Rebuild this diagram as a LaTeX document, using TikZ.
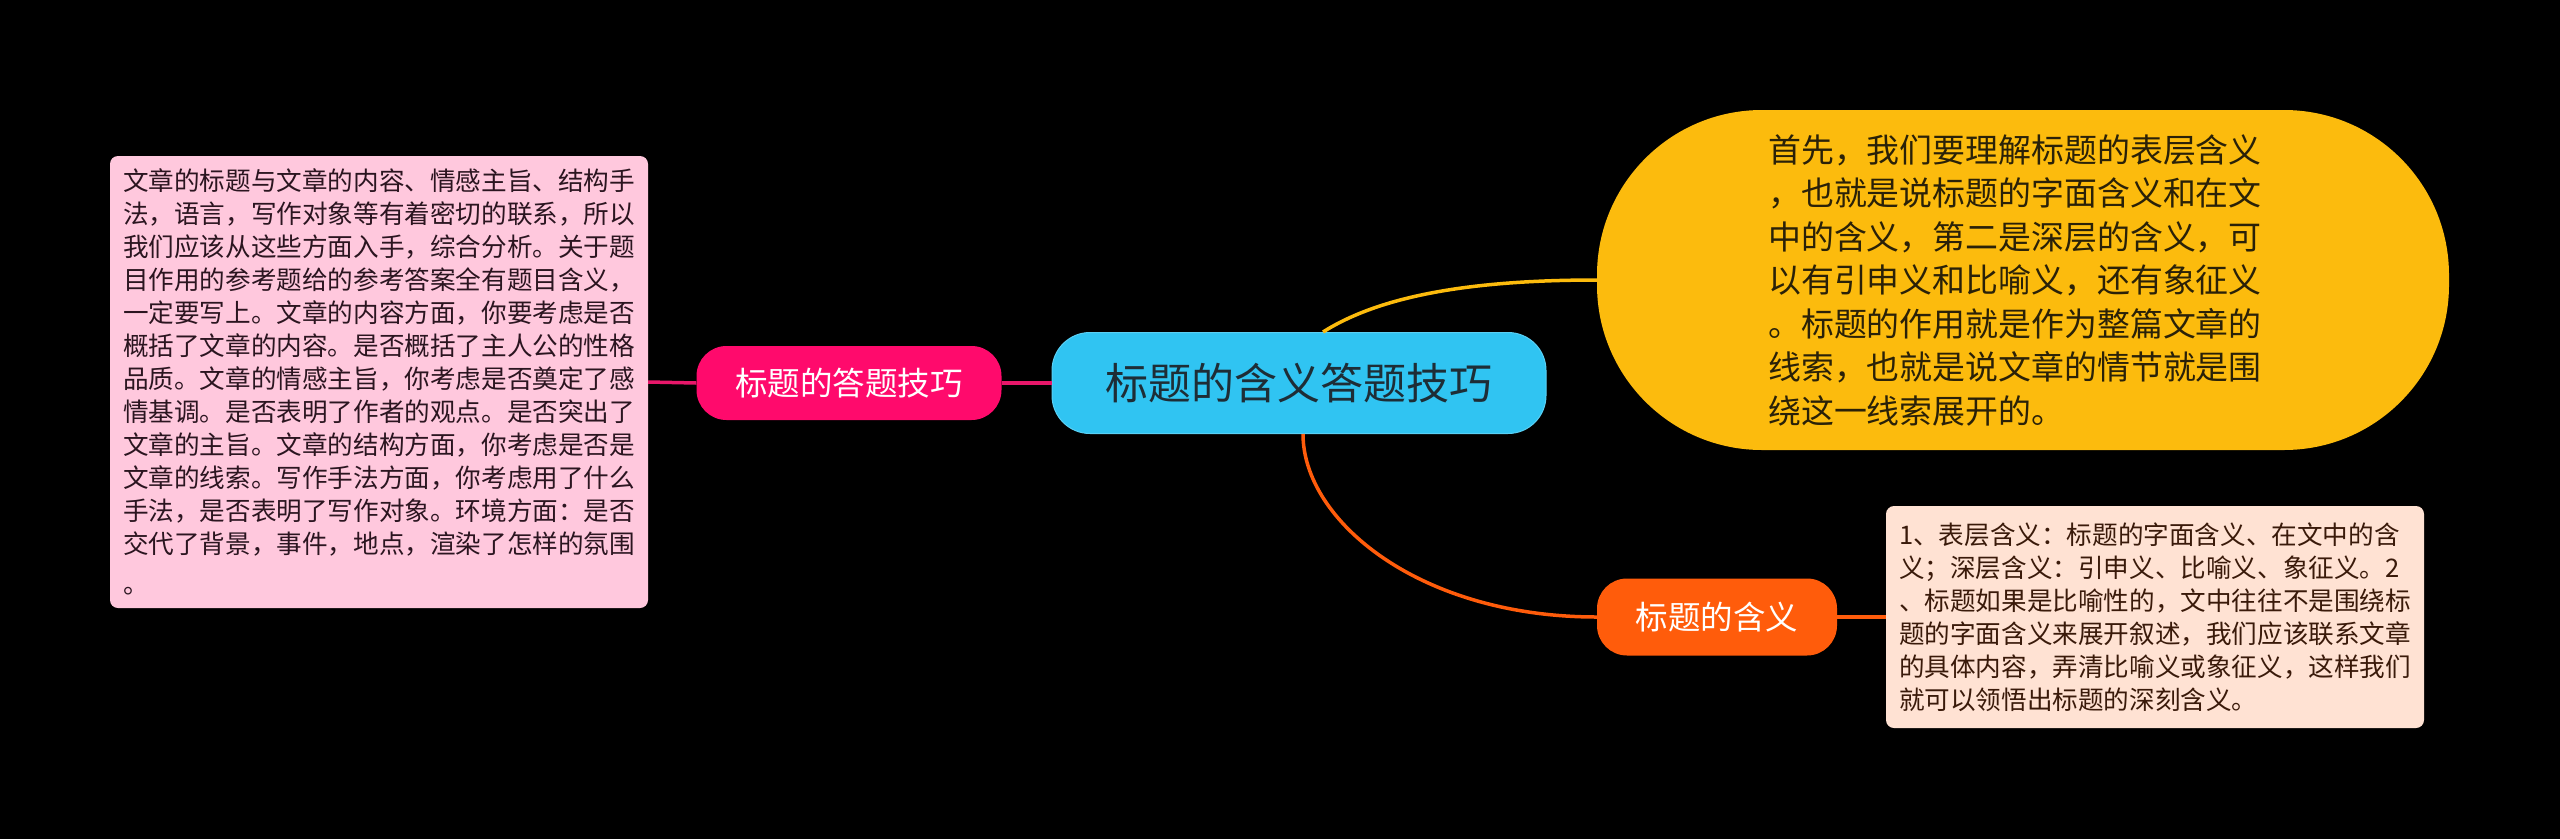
\documentclass[tikz,border=0pt]{standalone}
\usepackage{fontspec}
\newfontfamily\cjk{Noto Sans CJK SC}
\usetikzlibrary{calc}
\definecolor{rootfill}{HTML}{30C4F2}
\definecolor{roottext}{HTML}{1E2D36}
\definecolor{pinkfill}{HTML}{FF0A6C}
\definecolor{pinkline}{HTML}{E8176A}
\definecolor{pinkbox}{HTML}{FFC8DD}
\definecolor{pinktext}{HTML}{2B1520}
\definecolor{yellowfill}{HTML}{FCBB0D}
\definecolor{yellowtext}{HTML}{2A2108}
\definecolor{orangefill}{HTML}{FF5C0B}
\definecolor{peachbox}{HTML}{FFE2D3}
\definecolor{peachtext}{HTML}{3A1A0A}
\begin{document}
\begin{tikzpicture}[x=1pt,y=-1pt,
  rootnode/.style={fill=rootfill, draw=rootfill!80!white, line width=1pt, rounded corners=38pt,
    minimum width=494pt, minimum height=101pt, inner sep=0pt, text=roottext,
    font=\cjk\fontsize{43}{50}\selectfont},
  branchnode/.style={rounded corners=30pt, inner sep=0pt, text=white,
    font=\cjk\fontsize{32.5}{40}\selectfont},
  notebox/.style={rounded corners=8pt, inner sep=0pt, align=left},
  link/.style={line width=3.5pt}
]
\useasboundingbox (0,0) rectangle (2560,839);
\fill[black] (0,0) rectangle (2560,839);

% root
\node[rootnode] (root) at (1299,383) {标题的含义答题技巧};

% left branch
\node[branchnode, fill=pinkfill, minimum width=305pt, minimum height=74pt] (leftb) at (849,383) {标题的答题技巧};
\node[notebox, fill=pinkbox, text=pinktext, minimum width=538pt, minimum height=452pt,
  font=\cjk\fontsize{25.6}{33}\selectfont] (leftnote) at (379,382) {%
文章的标题与文章的内容、情感主旨、结构手\\
法，语言，写作对象等有着密切的联系，所以\\
我们应该从这些方面入手，综合分析。关于题\\
目作用的参考题给的参考答案全有题目含义，\\
一定要写上。文章的内容方面，你要考虑是否\\
概括了文章的内容。是否概括了主人公的性格\\
品质。文章的情感主旨，你考虑是否奠定了感\\
情基调。是否表明了作者的观点。是否突出了\\
文章的主旨。文章的结构方面，你考虑是否是\\
文章的线索。写作手法方面，你考虑用了什么\\
手法，是否表明了写作对象。环境方面：是否\\
交代了背景，事件，地点，渲染了怎样的氛围\\[7pt]
。};

% yellow branch
\node[notebox, fill=yellowfill, text=yellowtext, rounded corners=165pt,
  minimum width=852pt, minimum height=340pt,
  font=\cjk\fontsize{32.9}{43.5}\selectfont] (ynote) at (2023,280) {%
首先，我们要理解标题的表层含义\hspace*{16pt}\\
，也就是说标题的字面含义和在文\\
中的含义，第二是深层的含义，可\\
以有引申义和比喻义，还有象征义\\
。标题的作用就是作为整篇文章的\\
线索，也就是说文章的情节就是围\\
绕这一线索展开的。};

% orange branch
\node[branchnode, fill=orangefill, minimum width=240pt, minimum height=77pt] (rightb) at (1717,617) {标题的含义};
\node[notebox, fill=peachbox, text=peachtext, minimum width=538pt, minimum height=222pt,
  font=\cjk\fontsize{25.6}{33}\selectfont] (rnote) at (2155,617) {%
1、表层含义：标题的字面含义、在文中的含\\
义；深层含义：引申义、比喻义、象征义。2\\
、标题如果是比喻性的，文中往往不是围绕标\\
题的字面含义来展开叙述，我们应该联系文章\\
的具体内容，弄清比喻义或象征义，这样我们\\
就可以领悟出标题的深刻含义。};

% connectors
\draw[link, pinkline] (leftnote.east) -- (leftb.west);
\draw[link, pinkline] (leftb.east) -- (root.west);
\draw[link, yellowfill] ([xshift=24pt]root.north) .. controls ($([xshift=24pt]root.north)+(57,-36)$) and ($(ynote.west)+(-127,0)$) .. (ynote.west);
\draw[link, orangefill] ([xshift=4pt]root.south) .. controls ($([xshift=4pt]root.south)+(0,87)$) and ($(rightb.west)+(-177,0)$) .. (rightb.west);
\draw[link, orangefill] (rightb.east) -- (rnote.west);
\end{tikzpicture}
\end{document}
